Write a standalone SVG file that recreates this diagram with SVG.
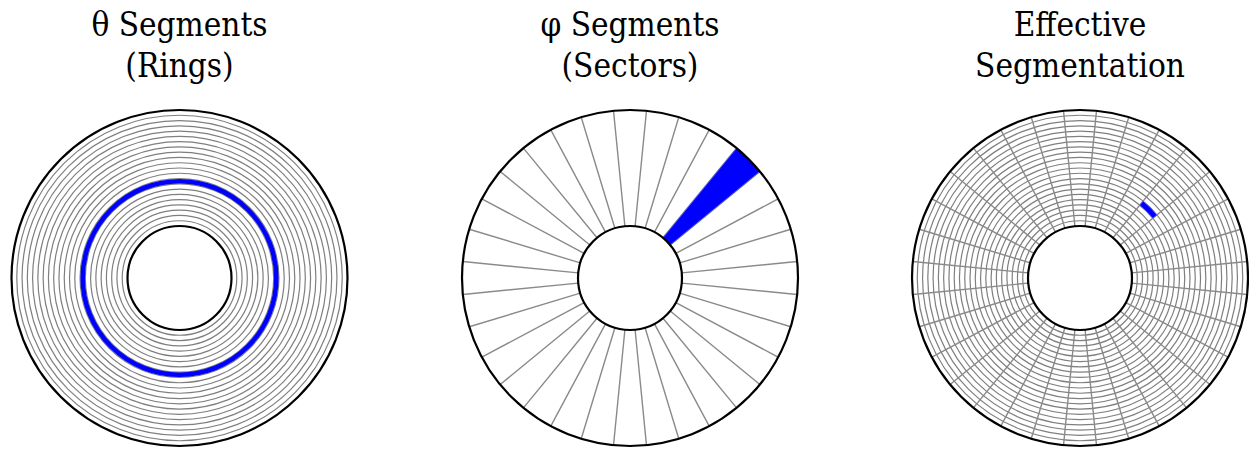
<svg xmlns="http://www.w3.org/2000/svg" xmlns:xlink="http://www.w3.org/1999/xlink" width="1249" height="450" viewBox="0 0 1249 450">
  <style>
    .title { font-family: "DejaVu Serif Condensed", "DejaVu Serif", "Liberation Serif", serif; font-stretch: condensed; font-size: 33px; fill: #000; text-anchor: middle; }
    .ring { fill: none; stroke: #7f7f7f; stroke-width: 1.2; }
    .spoke { fill: none; stroke: #8a8a8a; stroke-width: 1.4; }
    .edge { fill: none; stroke: #000; stroke-width: 2.2; }
    .hole { fill: #fff; stroke: #000; stroke-width: 2.2; }
    .hl { fill: #0000ff; stroke: #5a5aff; stroke-width: 0.8; }
  </style>
  <defs>
    <g id="rings" class="ring">
      <circle r="57.27"/><circle r="62.55"/><circle r="67.82"/><circle r="73.09"/>
      <circle r="78.36"/><circle r="83.64"/><circle r="88.91"/><circle r="94.18"/>
      <circle r="99.45"/><circle r="104.73"/><circle r="110.00"/><circle r="115.27"/>
      <circle r="120.55"/><circle r="125.82"/><circle r="131.09"/><circle r="136.36"/>
      <circle r="141.64"/><circle r="146.91"/><circle r="152.18"/><circle r="157.45"/>
      <circle r="162.73"/>
    </g>
    <path id="quad" class="spoke" d="M51.75,5.10L167.19,16.47M49.76,15.09L160.77,48.77M45.86,24.51L148.16,79.20M40.20,32.99L129.87,106.58M32.99,40.20L106.58,129.87M24.51,45.86L79.20,148.16M15.09,49.76L48.77,160.77M5.10,51.75L16.47,167.19"/>
    <g id="spokes">
      <use xlink:href="#quad"/>
      <use xlink:href="#quad" transform="rotate(90)"/>
      <use xlink:href="#quad" transform="rotate(180)"/>
      <use xlink:href="#quad" transform="rotate(270)"/>
    </g>
  </defs>

  <g id="theta-segments">
    <text class="title" x="179.5" y="36">θ Segments</text>
    <text class="title" x="179.5" y="77">(Rings)</text>
    <g transform="translate(179.5,278)">
      <circle r="168" fill="#fff"/>
      <use xlink:href="#rings"/>
      <circle r="96.8" fill="none" stroke="#0000ff" stroke-width="4.6"/>
      <circle r="52" class="hole"/>
      <circle r="168" class="edge"/>
    </g>
  </g>

  <g id="phi-segments">
    <text class="title" x="630" y="36">φ Segments</text>
    <text class="title" x="630" y="77">(Sectors)</text>
    <g transform="translate(630,278)">
      <circle r="168" fill="#fff"/>
      <use xlink:href="#spokes"/>
      <path class="hl" d="M40.20,-32.99L129.87,-106.58A168,168 0 0 0 106.58,-129.87L32.99,-40.20A52,52 0 0 1 40.20,-32.99Z"/>
      <circle r="52" class="hole"/>
      <circle r="168" class="edge"/>
    </g>
  </g>

  <g id="effective-segmentation">
    <text class="title" x="1080" y="36">Effective</text>
    <text class="title" x="1080" y="77">Segmentation</text>
    <g transform="translate(1080,278)">
      <circle r="168" fill="#fff"/>
      <use xlink:href="#rings"/>
      <use xlink:href="#spokes"/>
      <path class="hl" d="M72.80,-59.75L76.88,-63.09A99.45,99.45 0 0 0 63.09,-76.88L59.75,-72.80A94.18,94.18 0 0 1 72.80,-59.75Z"/>
      <circle r="52" class="hole"/>
      <circle r="168" class="edge"/>
    </g>
  </g>
</svg>
